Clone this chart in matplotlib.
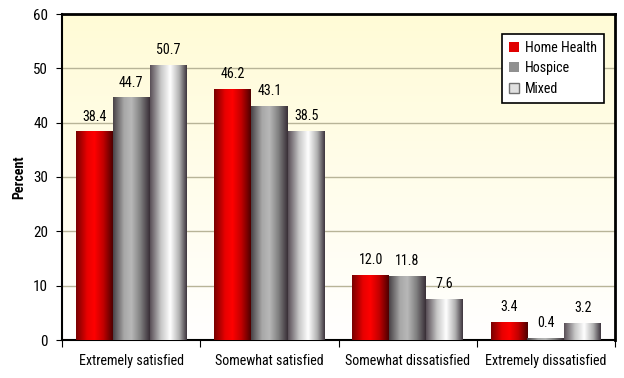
import numpy as np
import matplotlib
matplotlib.use('Agg')
import matplotlib.pyplot as plt
from matplotlib import font_manager
from matplotlib.colors import LinearSegmentedColormap
from matplotlib.patches import Patch

# Buscar una fuente estrecha parecida a la original
fuentes = font_manager.fontManager.ttflist
nombres = {f.name for f in fuentes}
familia, estrecho, escala = 'Roboto', 'normal', 0.85
for nombre in ['Liberation Sans Narrow', 'Roboto Condensed', 'Open Sans Condensed', 'Noto Sans Condensed']:
    if nombre in nombres:
        familia, escala = nombre, 0.92
        break
else:
    if any(f.name == 'DejaVu Sans' and f.stretch == 'condensed' for f in fuentes):
        familia, estrecho, escala = 'DejaVu Sans', 'condensed', 0.88
plt.rcParams['font.family'] = [familia, 'DejaVu Sans']
plt.rcParams['font.stretch'] = estrecho

# Datos
categorias = ['Extremely satisfied', 'Somewhat satisfied', 'Somewhat dissatisfied', 'Extremely dissatisfied']
home_health = [38.4, 46.2, 12.0, 3.4]
hospice = [44.7, 43.1, 11.8, 0.4]
mixed = [50.7, 38.5, 7.6, 3.2]
series = ['Home Health', 'Hospice', 'Mixed']

# Degradados horizontales de cada serie
cmaps = [
    LinearSegmentedColormap.from_list('rojo', [(0, '#7a0000'), (0.3, '#e80000'), (0.5, '#ff0000'),
                                              (0.75, '#c00000'), (1, '#500000')]),
    LinearSegmentedColormap.from_list('gris', [(0, '#4a4448'), (0.3, '#a8a8a8'), (0.5, '#b8b8b8'),
                                              (0.75, '#808080'), (1, '#3a3038')]),
    LinearSegmentedColormap.from_list('mixto', [(0, '#5a5058'), (0.3, '#c8c8c8'), (0.55, '#ffffff'),
                                               (0.8, '#b0b0b0'), (1, '#403840')]),
]

fs = 11 * escala

fig = plt.figure(figsize=(6.24, 3.78), dpi=100)
ax = fig.add_axes([62 / 624, 38 / 378, 553 / 624, 326 / 378])

# Fondo con degradado amarillo claro
fondo = LinearSegmentedColormap.from_list('fondo', ['#ffffff', '#fffbd6'])
ax.imshow(np.linspace(0, 1, 256).reshape(-1, 1)[::-1], cmap=fondo, aspect='auto',
          extent=[0, 1, 0, 1], transform=ax.transAxes, zorder=0)

x = np.arange(len(categorias))
ancho = 0.8 / 3
grad = np.linspace(0, 1, 64).reshape(1, -1)
for i, valores in enumerate([home_health, hospice, mixed]):
    pos = x - 0.4 + ancho * i + ancho / 2
    barras = ax.bar(pos, valores, ancho, color='none', edgecolor='none', zorder=3)
    for b, v in zip(barras, valores):
        im = ax.imshow(grad, cmap=cmaps[i], aspect='auto', zorder=3,
                       extent=[b.get_x(), b.get_x() + b.get_width(), 0, max(v, 0.01)])
        im.set_clip_path(b)
        ax.text(b.get_x() + b.get_width() / 2, v + 1.4, f'{v:.1f}', ha='center', va='bottom',
                fontsize=fs, zorder=4)

ax.set_xlim(-0.5, 3.5)
ax.set_ylim(0, 60)
ax.set_yticks(range(0, 61, 10))
ax.set_xticks(np.arange(-0.5, 4, 1))
ax.set_xticklabels([])
ax.set_xticks(x, minor=True)
ax.set_xticklabels(categorias, minor=True, fontsize=fs)
ax.tick_params(axis='x', which='minor', length=0, pad=10)
ax.tick_params(axis='x', which='major', length=5, direction='out')
ax.tick_params(axis='y', labelsize=11 * escala * 1.08, length=4, pad=6)
ax.yaxis.grid(True, color='#b8b498', linewidth=1)
ax.set_axisbelow(True)
for lado in ['top', 'right']:
    ax.spines[lado].set_linewidth(2)
ax.spines['bottom'].set_linewidth(1.5)
ax.spines['left'].set_linewidth(1.5)
ax.set_ylabel('Percent', fontweight='bold', fontsize=fs, labelpad=5)

handles = [Patch(facecolor='#e00000', edgecolor='none'),
           Patch(facecolor='#909090', edgecolor='none'),
           Patch(facecolor='#e0e0e0', edgecolor='#707070')]
leg = ax.legend(handles, series, loc='upper right', bbox_to_anchor=(0.98, 0.939), fontsize=fs,
                handlelength=0.7, handleheight=0.7, handletextpad=0.4, fancybox=False,
                framealpha=1, edgecolor='black', borderpad=0.5, labelspacing=0.45,
                borderaxespad=0)
leg.get_frame().set_linewidth(1.2)

plt.savefig('out.png', dpi=100)
plt.close()
